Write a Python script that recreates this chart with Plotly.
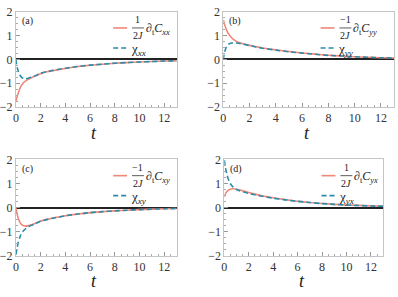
import plotly.graph_objects as go

# ---------------- data ----------------
t_grid = [0, 0.05, 0.1, 0.2, 0.3, 0.4, 0.5, 0.65, 0.8, 1.0, 1.25, 1.5, 2, 2.5, 3, 4, 5, 6, 7, 8, 9, 10, 11, 12, 13]

# (a)
red_a  = [-1.75, -1.66, -1.56, -1.40, -1.25, -1.13, -1.05, -0.96, -0.90, -0.84, -0.77, -0.71, -0.60, -0.52, -0.47, -0.38, -0.30, -0.245, -0.20, -0.16, -0.135, -0.11, -0.09, -0.07, -0.06]
blue_a = [0.0, -0.20, -0.33, -0.52, -0.64, -0.72, -0.77, -0.80, -0.81, -0.79, -0.75, -0.70, -0.58, -0.51, -0.46, -0.37, -0.30, -0.24, -0.20, -0.16, -0.13, -0.11, -0.09, -0.07, -0.06]
# (b)
red_b  = [1.66, 1.56, 1.46, 1.30, 1.17, 1.07, 0.99, 0.90, 0.83, 0.75, 0.70, 0.66, 0.59, 0.53, 0.48, 0.40, 0.33, 0.27, 0.22, 0.175, 0.14, 0.11, 0.09, 0.07, 0.06]
blue_b = [0.0, 0.18, 0.31, 0.48, 0.58, 0.64, 0.67, 0.69, 0.70, 0.69, 0.67, 0.64, 0.58, 0.52, 0.47, 0.39, 0.32, 0.265, 0.215, 0.17, 0.14, 0.11, 0.09, 0.07, 0.06]
# (c)
red_c  = [0.0, -0.15, -0.27, -0.45, -0.58, -0.67, -0.72, -0.76, -0.77, -0.75, -0.71, -0.67, -0.56, -0.49, -0.43, -0.34, -0.27, -0.21, -0.17, -0.135, -0.11, -0.085, -0.065, -0.05, -0.04]
blue_c = [-1.95, -1.80, -1.65, -1.42, -1.26, -1.13, -1.04, -0.94, -0.87, -0.80, -0.74, -0.69, -0.57, -0.50, -0.44, -0.34, -0.27, -0.21, -0.17, -0.135, -0.11, -0.085, -0.065, -0.05, -0.04]
# (d)
red_d  = [0.45, 0.52, 0.58, 0.66, 0.71, 0.74, 0.76, 0.78, 0.78, 0.76, 0.73, 0.70, 0.63, 0.56, 0.50, 0.41, 0.33, 0.265, 0.21, 0.17, 0.135, 0.11, 0.09, 0.07, 0.06]
blue_d = [1.97, 1.80, 1.64, 1.40, 1.22, 1.09, 0.99, 0.89, 0.82, 0.75, 0.70, 0.66, 0.59, 0.53, 0.48, 0.39, 0.32, 0.26, 0.21, 0.165, 0.135, 0.105, 0.085, 0.065, 0.055]

x_ticks = [0, 2, 4, 6, 8, 10, 12]
y_ticks = [-2, -1, 0, 1, 2]
y_ticktext = ["−2", "−1", "0", "1", "2"]
panel_labels = ["(a)", "(b)", "(c)", "(d)"]
red_labels = ["∂<sub>t</sub><i>C</i><sub><i>xx</i></sub>", "∂<sub>t</sub><i>C</i><sub><i>yy</i></sub>",
              "∂<sub>t</sub><i>C</i><sub><i>xy</i></sub>", "∂<sub>t</sub><i>C</i><sub><i>yx</i></sub>"]
numerators = ["1", "−1", "−1", "1"]
blue_labels = ["χ<sub><i>xx</i></sub>", "χ<sub><i>yy</i></sub>", "χ<sub><i>xy</i></sub>", "χ<sub><i>yx</i></sub>"]

RED = "#f0887a"
BLUE = "#2a8cab"
FONT = "Liberation Serif"
W, H = 398, 297

# panel boxes in pixels: (x0, x1, y_top, y_bottom)
boxes = [(13, 175, 5, 105), (222, 394, 5, 105), (13, 175, 160, 261), (223, 383, 160, 261)]

def px(x):
    return x / W

def py(y):
    return 1 - y / H

fig = go.Figure()
reds = [red_a, red_b, red_c, red_d]
blues = [blue_a, blue_b, blue_c, blue_d]

annotations = []
shapes = []
for i in range(4):
    n = "" if i == 0 else str(i + 1)
    xa, ya = "x" + n, "y" + n
    fig.add_trace(go.Scatter(x=t_grid, y=reds[i], mode="lines", line=dict(color=RED, width=1.6, shape="spline", smoothing=0.4),
                             xaxis=xa, yaxis=ya, showlegend=False))
    fig.add_trace(go.Scatter(x=t_grid, y=blues[i], mode="lines", line=dict(color=BLUE, width=1.6, dash="5px,3px", shape="spline", smoothing=0.4),
                             xaxis=xa, yaxis=ya, showlegend=False))
    x0, x1, yt, yb = boxes[i]
    axcommon = dict(showline=True, linecolor="#c4c4c4", linewidth=1, mirror=True, ticks="inside",
                    tickcolor="#999999", ticklen=4, tickwidth=1, showgrid=False,
                    tickfont=dict(family=FONT, size=12, color="#333333"))
    fig.layout["xaxis" + n] = dict(domain=[px(x0), px(x1)], range=[0, 13], anchor=ya,
                                   tickvals=x_ticks, zeroline=False,
                                   minor=dict(ticks="inside", ticklen=2, dtick=0.5, tickcolor="#aaaaaa"),
                                   **axcommon)
    fig.layout["yaxis" + n] = dict(domain=[py(yb), py(yt)], range=[-2, 2], anchor=xa,
                                   tickvals=y_ticks, ticktext=y_ticktext,
                                   zeroline=True, zerolinecolor="#222222", zerolinewidth=2,
                                   minor=dict(ticks="inside", ticklen=2, dtick=0.25, tickcolor="#aaaaaa"),
                                   **axcommon)
    # panel label
    annotations.append(dict(x=px(x0 + 4), y=py(yt + 10), xref="paper", yref="paper", text=panel_labels[i],
                            showarrow=False, xanchor="left", yanchor="middle",
                            font=dict(family=FONT, size=10, color="#222222")))
    # x title
    annotations.append(dict(x=px((x0 + x1) / 2 - 2), y=py(yb + 27), xref="paper", yref="paper", text="<i>t</i>",
                            showarrow=False, xanchor="center", yanchor="middle",
                            font=dict(family=FONT, size=18, color="#222222")))
    # legend
    lx = x0 + 98
    ly1 = yt + 17
    ly2 = yt + 38
    shapes.append(dict(type="line", xref="paper", yref="paper", x0=px(lx), x1=px(lx + 14), y0=py(ly1), y1=py(ly1),
                       line=dict(color=RED, width=1.6)))
    shapes.append(dict(type="line", xref="paper", yref="paper", x0=px(lx), x1=px(lx + 14), y0=py(ly2), y1=py(ly2),
                       line=dict(color=BLUE, width=1.6, dash="5px,3px")))
    fx = lx + 25
    shapes.append(dict(type="line", xref="paper", yref="paper", x0=px(fx - 6), x1=px(fx + 6), y0=py(ly1), y1=py(ly1),
                       line=dict(color="#333333", width=0.8)))
    annotations.append(dict(x=px(fx), y=py(ly1 - 0.5), xref="paper", yref="paper", text=numerators[i],
                            showarrow=False, xanchor="center", yanchor="bottom",
                            font=dict(family=FONT, size=10, color="#222222")))
    annotations.append(dict(x=px(fx), y=py(ly1 + 0.5), xref="paper", yref="paper", text="2<i>J</i>",
                            showarrow=False, xanchor="center", yanchor="top",
                            font=dict(family=FONT, size=10, color="#222222")))
    annotations.append(dict(x=px(fx + 6), y=py(ly1 + 1), xref="paper", yref="paper", text=red_labels[i],
                            showarrow=False, xanchor="left", yanchor="middle",
                            font=dict(family=FONT, size=12, color="#222222")))
    annotations.append(dict(x=px(lx + 16), y=py(ly2 + 2), xref="paper", yref="paper", text=blue_labels[i],
                            showarrow=False, xanchor="left", yanchor="middle",
                            font=dict(family=FONT, size=13, color="#222222")))

fig.update_layout(width=W, height=H, margin=dict(l=0, r=0, t=0, b=0),
                  paper_bgcolor="white", plot_bgcolor="white",
                  annotations=annotations, shapes=shapes)

fig.write_html("out.html", config={"displayModeBar": False},
               post_script="document.body.style.margin='0';document.body.style.overflow='hidden';")
